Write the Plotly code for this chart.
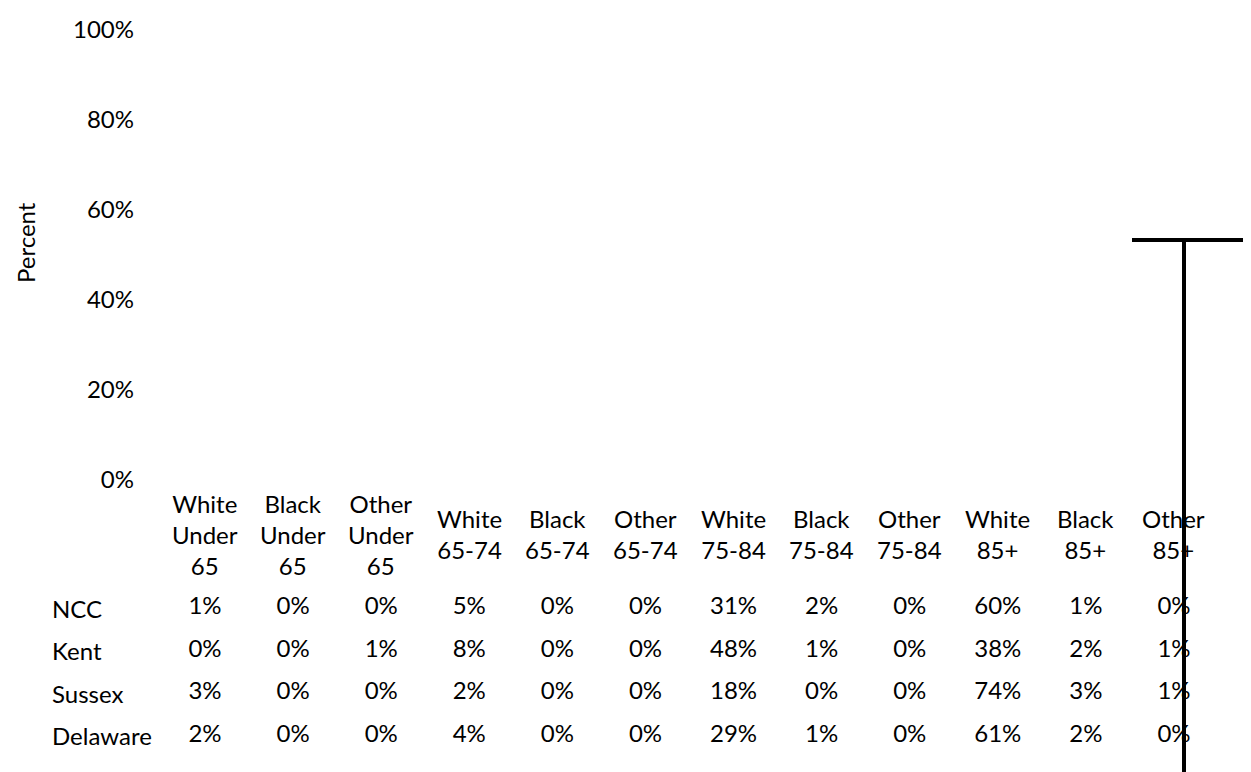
import plotly.graph_objects as go

categories = ["White Under 65", "Black Under 65", "Other Under 65",
              "White 65-74", "Black 65-74", "Other 65-74",
              "White 75-84", "Black 75-84", "Other 75-84",
              "White 85+", "Black 85+", "Other 85+"]
category_labels = ["White<br>Under<br>65", "Black<br>Under<br>65", "Other<br>Under<br>65",
                   "White<br>65-74", "Black<br>65-74", "Other<br>65-74",
                   "White<br>75-84", "Black<br>75-84", "Other<br>75-84",
                   "White<br>85+", "Black<br>85+", "Other<br>85+"]
rows = ["NCC", "Kent", "Sussex", "Delaware"]
ncc = [1, 0, 0, 5, 0, 0, 31, 2, 0, 60, 1, 0]
kent = [0, 0, 1, 8, 0, 0, 48, 1, 0, 38, 2, 1]
sussex = [3, 0, 0, 2, 0, 0, 18, 0, 0, 74, 3, 1]
delaware = [2, 0, 0, 4, 0, 0, 29, 1, 0, 61, 2, 0]
y_ticks = [0, 0.2, 0.4, 0.6, 0.8, 1.0]

FONT = "Lato"
FS = 24
W, H = 1251, 772
ML, MR, MT, MB = 153, 41, 22, 20
ph = H - MT - MB
pw = W - ML - MR

def py(pix):
    return (H - MB - pix) / ph

def px(pix):
    return (pix - ML) / pw

fig = go.Figure()

# empty chart area (no visible bars)
fig.add_trace(go.Scatter(x=categories, y=[None] * len(categories), mode="markers",
                         xaxis="x", yaxis="y", showlegend=False, hoverinfo="skip"))

for name, vals in zip(rows, [ncc, kent, sussex, delaware]):
    fig.add_trace(go.Scatter(
        x=categories, y=[name] * len(categories), mode="text",
        text=[f"{v}%" for v in vals], textposition="middle center",
        textfont=dict(family=FONT, size=FS, color="black"),
        xaxis="x2", yaxis="y2", showlegend=False, hoverinfo="skip"))

annotations = []
for c, lab in zip(categories, category_labels):
    annotations.append(dict(x=c, xref="x", y=py(526), yref="paper", text=lab,
                            showarrow=False, xanchor="center", yanchor="middle",
                            font=dict(family=FONT, size=FS, color="black")))
for r in rows:
    annotations.append(dict(x=px(42), xref="paper", y=r, yref="y2", text=r,
                            showarrow=False, xanchor="left", yanchor="middle",
                            font=dict(family=FONT, size=FS, color="black")))
annotations.append(dict(x=px(18), xref="paper", y=py(235), yref="paper", text="Percent",
                        textangle=-90, showarrow=False, xanchor="center", yanchor="middle",
                        font=dict(family=FONT, size=FS, color="black")))

shapes = [
    dict(type="line", xref="paper", yref="paper", x0=px(1124), x1=px(1249),
         y0=py(232), y1=py(232), line=dict(color="black", width=4)),
    dict(type="line", xref="paper", yref="paper", x0=px(1176), x1=px(1176),
         y0=py(232), y1=py(775), line=dict(color="black", width=4)),
]

fig.update_layout(
    width=W, height=H,
    margin=dict(l=ML, r=MR, t=MT, b=MB, autoexpand=False),
    paper_bgcolor="white", plot_bgcolor="white",
    font=dict(family=FONT, size=FS, color="black"),
    xaxis=dict(domain=[0, 1], range=[-0.5, 11.5], type="category",
               categoryorder="array", categoryarray=categories,
               showticklabels=False, showgrid=False, zeroline=False, showline=False, ticks=""),
    yaxis=dict(domain=[py(472), 1], range=[0, 1], tickvals=y_ticks, tickformat=".0%",
               showgrid=False, zeroline=False, showline=False, ticks="",
               ticklabelstandoff=26, tickfont=dict(family=FONT, size=FS, color="black")),
    xaxis2=dict(domain=[0, 1], range=[-0.5, 11.5], type="category",
                categoryorder="array", categoryarray=categories, anchor="y2",
                showticklabels=False, showgrid=False, zeroline=False, showline=False, ticks=""),
    yaxis2=dict(domain=[py(749.3), py(578.7)], range=[3.5, -0.5], type="category",
                categoryorder="array", categoryarray=rows, anchor="x2",
                showticklabels=False, showgrid=False, zeroline=False, showline=False, ticks=""),
    annotations=annotations,
    shapes=shapes,
    showlegend=False,
)

fig.write_html("out.html")
